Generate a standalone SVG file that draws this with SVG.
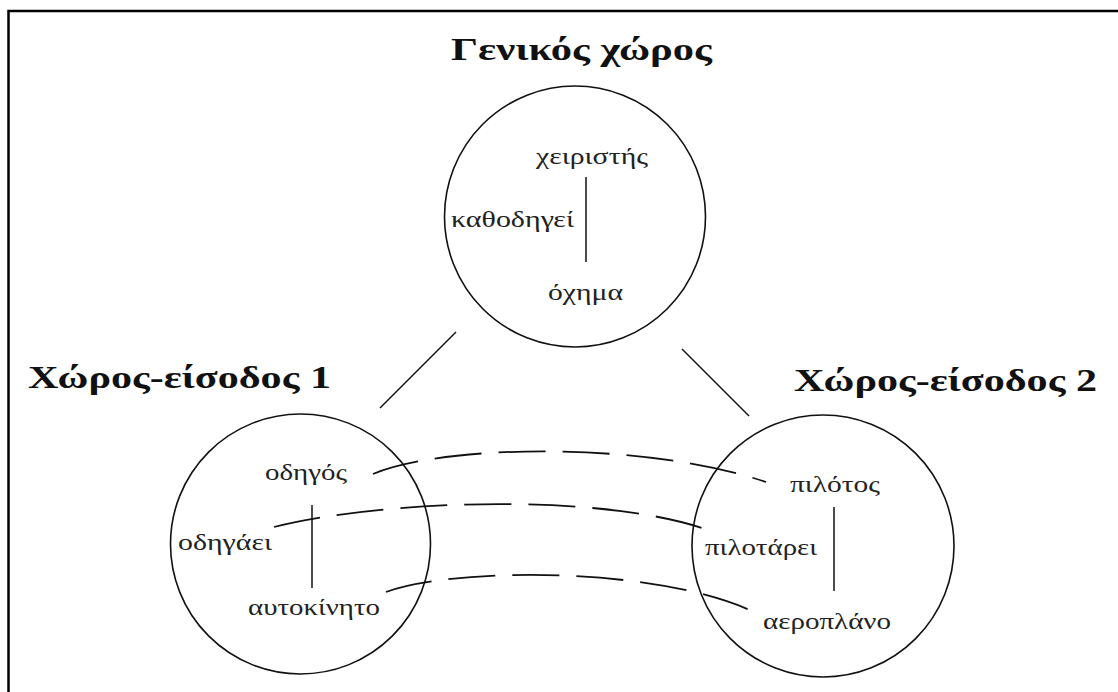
<svg xmlns="http://www.w3.org/2000/svg" width="1118" height="692" viewBox="0 0 1118 692">
<style>
.title{font-family:"Liberation Serif","Times New Roman",serif;font-weight:bold;font-size:31px;fill:#111}
.lbl{font-family:"Liberation Serif","Times New Roman",serif;font-size:23px;fill:#222}
.circ{fill:none;stroke:#111;stroke-width:1.6}
.ln{stroke:#111;stroke-width:1.5;fill:none}
.dash{stroke:#111;stroke-width:1.8;fill:none;stroke-dasharray:47 17}
</style>
<rect x="0" y="0" width="1118" height="692" fill="#fff"/>
<path d="M8.5,692 V11 H1118" fill="none" stroke="#000" stroke-width="2.5"/>
<g id="general">
<circle class="circ" cx="575" cy="216.5" r="130.5"/>
<text class="title" x="451" y="60" textLength="261" lengthAdjust="spacingAndGlyphs">Γενικός χώρος</text>
<text class="lbl" x="536" y="164" textLength="112" lengthAdjust="spacingAndGlyphs">χειριστής</text>
<text class="lbl" x="451" y="227" textLength="123" lengthAdjust="spacingAndGlyphs">καθοδηγεί</text>
<text class="lbl" x="548" y="300" textLength="75" lengthAdjust="spacingAndGlyphs">όχημα</text>
<line class="ln" x1="586" y1="177" x2="586" y2="262"/>
</g>
<g id="input1">
<circle class="circ" cx="300.5" cy="544" r="130"/>
<text class="title" x="28" y="388" textLength="303" lengthAdjust="spacingAndGlyphs">Χώρος-είσοδος 1</text>
<text class="lbl" x="265" y="480" textLength="82" lengthAdjust="spacingAndGlyphs">οδηγός</text>
<text class="lbl" x="178" y="550" textLength="94" lengthAdjust="spacingAndGlyphs">οδηγάει</text>
<text class="lbl" x="248" y="615" textLength="132" lengthAdjust="spacingAndGlyphs">αυτοκίνητο</text>
<line class="ln" x1="312" y1="505" x2="312" y2="588"/>
</g>
<g id="input2">
<circle class="circ" cx="823" cy="546" r="131"/>
<text class="title" x="794" y="391" textLength="303" lengthAdjust="spacingAndGlyphs">Χώρος-είσοδος 2</text>
<text class="lbl" x="790" y="492" textLength="90" lengthAdjust="spacingAndGlyphs">πιλότος</text>
<text class="lbl" x="705" y="555" textLength="112" lengthAdjust="spacingAndGlyphs">πιλοτάρει</text>
<text class="lbl" x="763" y="629" textLength="128" lengthAdjust="spacingAndGlyphs">αεροπλάνο</text>
<line class="ln" x1="834" y1="507" x2="834" y2="591"/>
</g>
<g id="connectors">
<line class="ln" x1="456" y1="332" x2="380" y2="408"/>
<line class="ln" x1="682" y1="349" x2="749" y2="416"/>
<path class="dash" d="M373,474 C440,445 640,440 766,482"/>
<path class="dash" d="M274,527 C380,500 600,492 708,530"/>
<path class="dash" d="M386,592 C450,568 650,565 752,611"/>
</g>
</svg>
